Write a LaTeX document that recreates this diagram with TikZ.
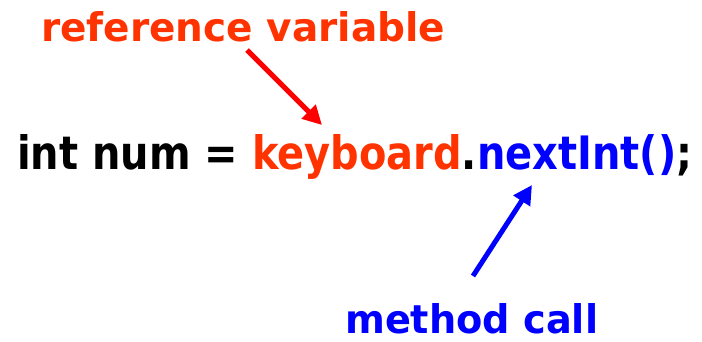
\documentclass[tikz,border=0pt]{standalone}
\usepackage{fontspec}
\setmainfont{DejaVu Sans}
\usetikzlibrary{arrows.meta}
\definecolor{refred}{RGB}{255,51,0}
\definecolor{arrred}{RGB}{255,0,0}
\definecolor{callblue}{RGB}{0,0,255}
\tikzset{
  label text/.style={inner sep=0pt, anchor=base west, font=\bfseries},
  pointer/.style={line width=5pt, -{Triangle[length=19pt,width=19pt]}},
}
\begin{document}
\begin{tikzpicture}[x=1pt,y=1pt]
  \useasboundingbox (0,0) rectangle (702,341);
  % code line
  \node[label text] (code) at (17,172)
    {\resizebox{675pt}{35pt}{int num = \textcolor{refred}{keyboard}.\textcolor{callblue}{nextInt()};}};
  % labels
  \node[label text, text=refred] (refvar) at (41,299)
    {\resizebox{404pt}{30pt}{reference variable}};
  \node[label text, text=callblue] (mcall) at (345,8)
    {\resizebox{253pt}{30pt}{method call}};
  % pointer ends
  \coordinate (refstart) at (247,291);
  \coordinate (refend) at (322,216);
  \coordinate (callstart) at (473,65);
  \coordinate (callend) at (532,156);
  \draw[pointer, arrred] (refstart) -- (refend);
  \draw[pointer, callblue] (callstart) -- (callend);
\end{tikzpicture}
\end{document}
